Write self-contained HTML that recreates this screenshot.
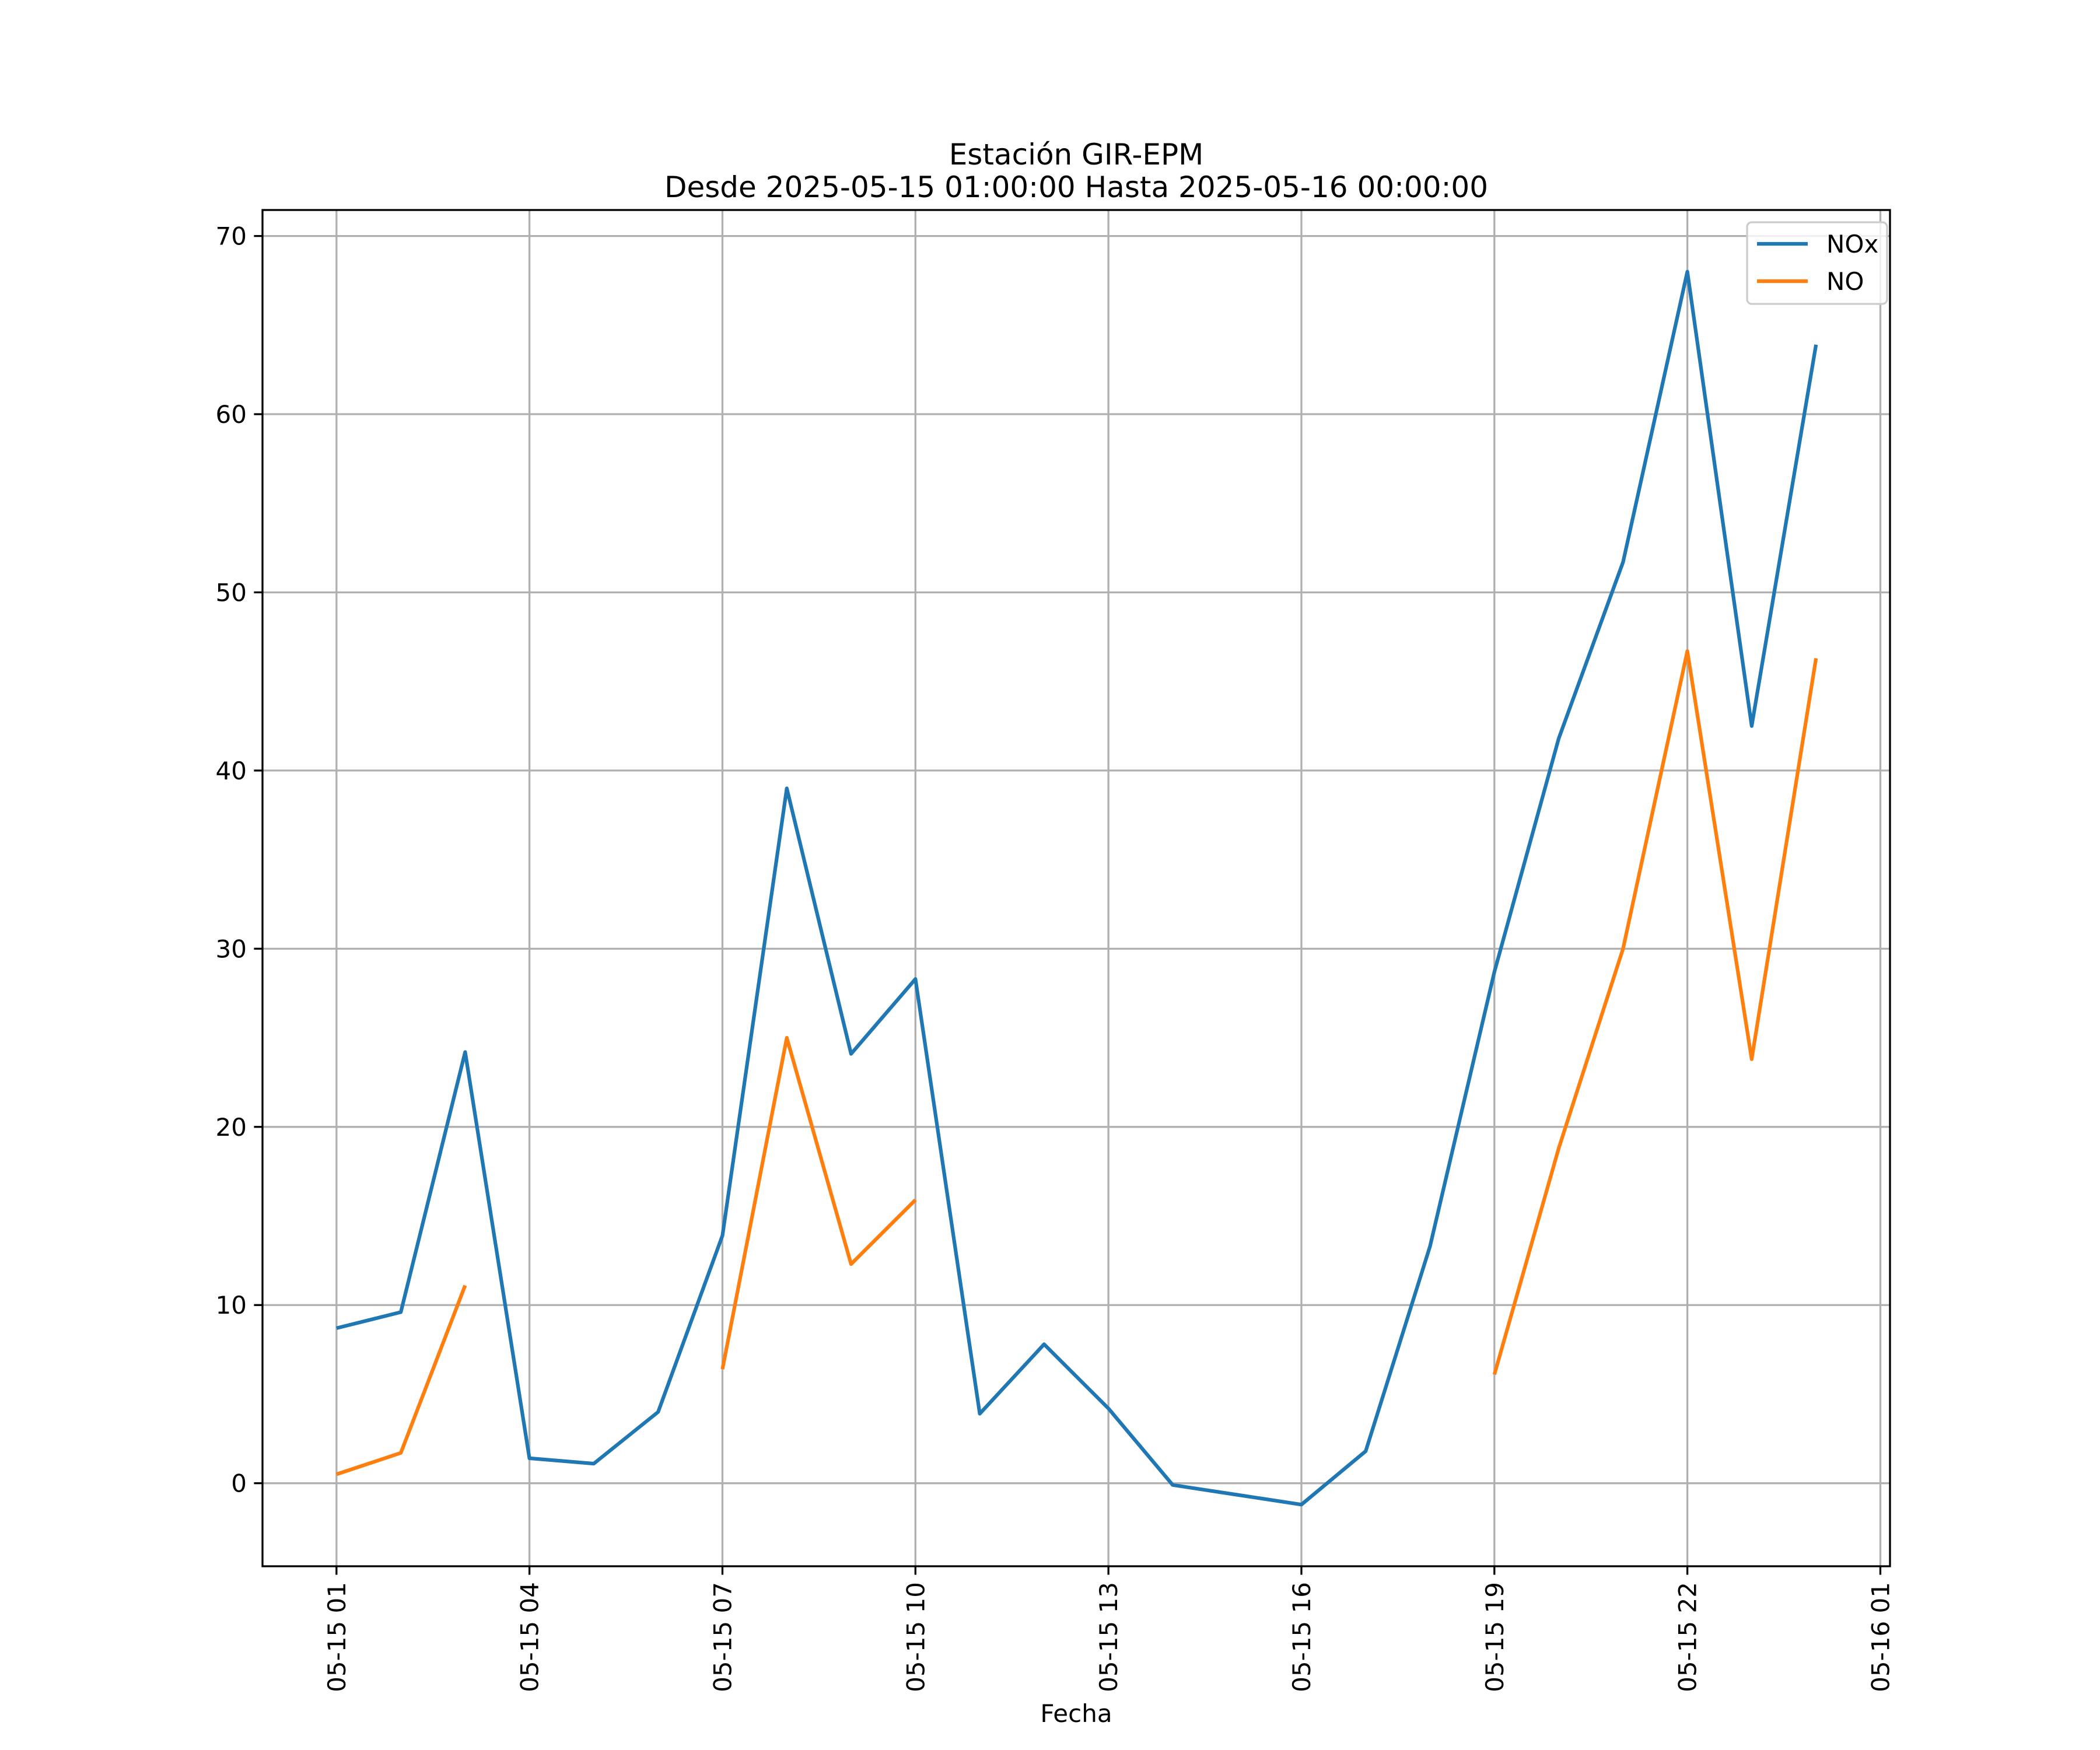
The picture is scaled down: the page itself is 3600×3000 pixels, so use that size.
<!DOCTYPE html>
<html><head><meta charset="utf-8"><style>html,body{margin:0;padding:0;background:#fff}svg{display:block}</style></head>
<body>
<svg id="chart" width="3600" height="3000" xmlns="http://www.w3.org/2000/svg" font-family="'DejaVu Sans','Liberation Sans',sans-serif">
<rect width="3600" height="3000" fill="#fff"/>
<text x="1845" y="282" font-size="50" text-anchor="middle">Estación GIR-EPM</text>
<text x="1845" y="338" font-size="50" text-anchor="middle">Desde 2025-05-15 01:00:00 Hasta 2025-05-16 00:00:00</text>
<g id="grid"></g><g id="series"></g><g id="axes"></g>
<text x="1845" y="2952" font-size="42" text-anchor="middle">Fecha</text>
</svg>
<script>
const hours = [0,1,2,3,4,5,6,7,8,9,10,11,12,13,14,15,16,17,18,19,20,21,22,23];
const noxValues = [8.7,9.6,24.2,1.4,1.1,4.0,13.9,39.0,24.1,28.3,3.9,7.8,4.2,-0.1,-0.65,-1.2,1.8,13.3,28.7,41.8,51.7,68.0,42.5,63.9];
const noValues = [0.5,1.7,11.1,null,null,null,6.4,25.0,12.3,15.9,null,null,null,null,null,null,null,null,6.1,18.8,30.0,46.7,23.8,46.3];
const yTicks = [0,10,20,30,40,50,60,70];
const xTickHours = [0,3,6,9,12,15,18,21,24];
const xTickLabels = ["05-15 01","05-15 04","05-15 07","05-15 10","05-15 13","05-15 16","05-15 19","05-15 22","05-16 01"];
const L=450,R=3240,T=360,B=2685;
const xmin=-1.15,xmax=24.15,ymin=-4.66,ymax=71.46;
const sx=v=>L+(v-xmin)/(xmax-xmin)*(R-L);
const sy=v=>B-(v-ymin)/(ymax-ymin)*(B-T);
const NS="http://www.w3.org/2000/svg";
function mk(tag,attrs,parent){const e=document.createElementNS(NS,tag);for(const k in attrs)e.setAttribute(k,attrs[k]);parent.appendChild(e);return e;}
const grid=document.getElementById('grid'),axes=document.getElementById('axes'),series=document.getElementById('series');
yTicks.forEach(t=>{
 const g=mk('line',{x1:L,x2:R,y1:sy(t),y2:sy(t),stroke:'#b0b0b0','stroke-width':3.3},grid);
 
 
 const tk=mk('line',{x1:L-14.6,x2:L,y1:sy(t),y2:sy(t),stroke:'#000','stroke-width':3.3},axes);
 
 
 const tx=mk('text',{x:L-27,y:sy(t)+15,'font-size':42,'text-anchor':'end'},axes);
 tx.textContent=t;
 
 
});
xTickHours.forEach((h,i)=>{
 const x=sx(h);
 const g=mk('line',{x1:x,x2:x,y1:T,y2:B,stroke:'#b0b0b0','stroke-width':3.3},grid);
 
 
 const tk=mk('line',{x1:x,x2:x,y1:B,y2:B+14.6,stroke:'#000','stroke-width':3.3},axes);
 
 
 const tx=mk('text',{x:0,y:0,'font-size':42,'text-anchor':'end',transform:`translate(${x+15},${B+27}) rotate(-90)`},axes);
 tx.textContent=xTickLabels[i];
 
 
});
function drawSeries(vals,color,name){
 let d='',pen=false;
 vals.forEach((v,i)=>{if(v===null){pen=false;return;}d+=(pen?'L':'M')+sx(hours[i]).toFixed(1)+' '+sy(v).toFixed(1)+' ';pen=true;});
 const p=mk('path',{d:d,fill:'none',stroke:color,'stroke-width':6.25,'stroke-linejoin':'round'},series);
 
 
}
drawSeries(noxValues,'#1f77b4','nox-line');
drawSeries(noValues,'#ff7f0e','no-line');
const fr=mk('rect',{x:L,y:T,width:R-L,height:B-T,fill:'none',stroke:'#000','stroke-width':3.3},axes);


const lg=mk('g',{},axes);


mk('rect',{x:2995,y:381,width:240,height:140,rx:8,fill:'#fff','fill-opacity':0.8,stroke:'#ccc','stroke-width':3.3},lg);
[['NOx','#1f77b4',418],['NO','#ff7f0e',482]].forEach(([lab,c,y])=>{
 const li=mk('line',{x1:3012,x2:3099,y1:y,y2:y,stroke:c,'stroke-width':6.25},lg);
 
 
 const t=mk('text',{x:3131,y:y+15,'font-size':42},lg);
 t.textContent=lab;
 
 
});
</script>
</body></html>
